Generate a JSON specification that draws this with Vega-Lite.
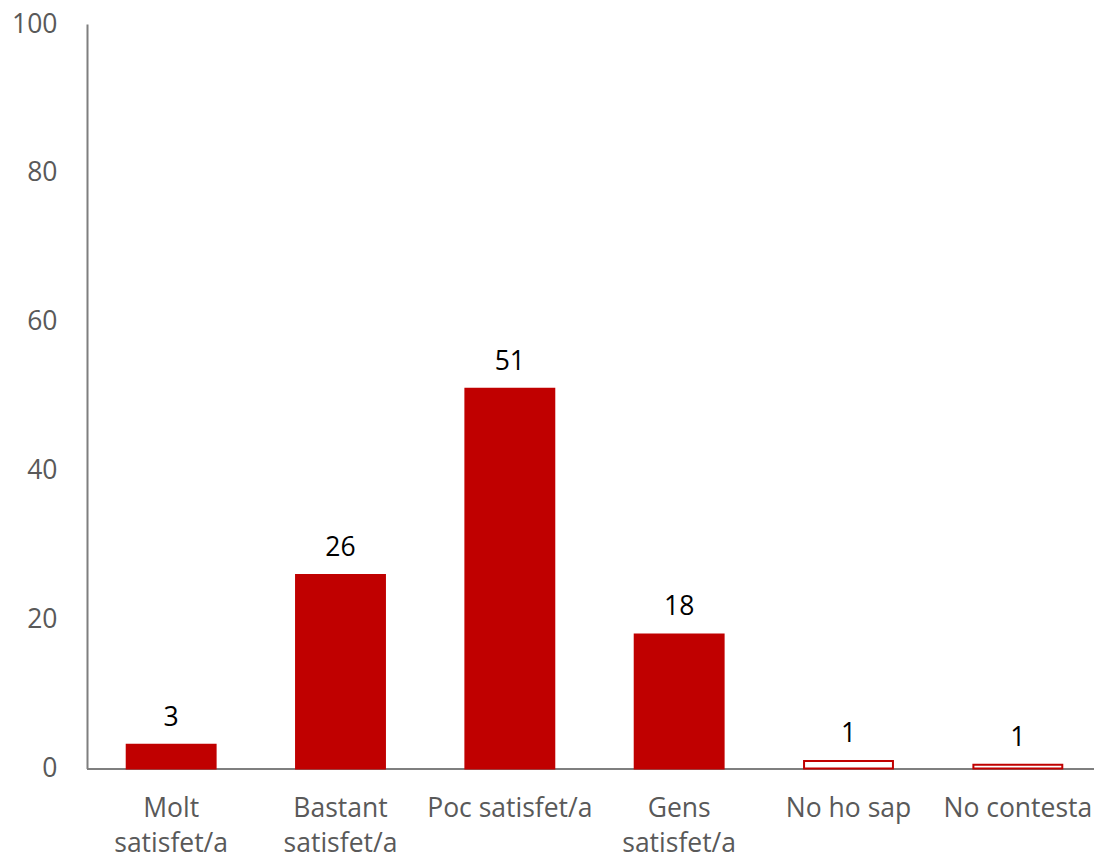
{
  "$schema": "https://vega.github.io/schema/vega-lite/v6.json",
  "autosize": {"type": "none"},
  "width": 1007,
  "height": 744.5,
  "padding": {"left": 87, "right": 0, "top": 24, "bottom": 87.5},
  "background": "white",
  "data": {
    "values": [
      {"cat": "Molt satisfet/a", "value": 3.2, "label": "3", "kind": "answer"},
      {"cat": "Bastant satisfet/a", "value": 26, "label": "26", "kind": "answer"},
      {"cat": "Poc satisfet/a", "value": 51, "label": "51", "kind": "answer"},
      {"cat": "Gens satisfet/a", "value": 18, "label": "18", "kind": "answer"},
      {"cat": "No ho sap", "value": 1.0, "label": "1", "kind": "nsnc"},
      {"cat": "No contesta", "value": 0.5, "label": "1", "kind": "nsnc"}
    ]
  },
  "config": {
    "view": {"stroke": null},
    "font": "Open Sans"
  },
  "encoding": {
    "x": {
      "field": "cat",
      "type": "nominal",
      "sort": null,
      "scale": {"range": [-0.5, 1015.5], "paddingInner": 0.475, "paddingOuter": 0.2375},
      "axis": {
        "title": null,
        "labelAngle": 0,
        "labelFont": "Open Sans",
        "labelFontSize": 26.5,
        "labelColor": "#595959",
        "labelPadding": 27,
        "labelLineHeight": 34.5,
        "labelExpr": "indexof(['Molt satisfet/a','Bastant satisfet/a','Gens satisfet/a'], datum.value) >= 0 ? split(datum.value, ' ') : datum.value",
        "ticks": false,
        "domainColor": "#7f7f7f",
        "domainWidth": 2,
        "labelOverlap": false,
        "labelBound": false
      }
    },
    "y": {
      "field": "value",
      "type": "quantitative",
      "scale": {"domain": [0, 100], "nice": false},
      "axis": {
        "title": null,
        "values": [0, 20, 40, 60, 80, 100],
        "grid": false,
        "ticks": false,
        "labelFont": "Open Sans",
        "labelFontSize": 26.5,
        "labelColor": "#595959",
        "labelPadding": 30,
        "domainColor": "#7f7f7f",
        "domainWidth": 2
      }
    }
  },
  "layer": [
    {
      "mark": {"type": "bar", "stroke": "#C00000", "strokeWidth": 2},
      "encoding": {
        "fill": {
          "field": "kind",
          "type": "nominal",
          "scale": {"domain": ["answer", "nsnc"], "range": ["#C00000", "#FFFFFF"]},
          "legend": null
        }
      }
    },
    {
      "mark": {"type": "text", "baseline": "alphabetic", "dy": -19, "fontSize": 26.5, "font": "Open Sans", "color": "#000000"},
      "encoding": {"text": {"field": "label"}}
    }
  ]
}
